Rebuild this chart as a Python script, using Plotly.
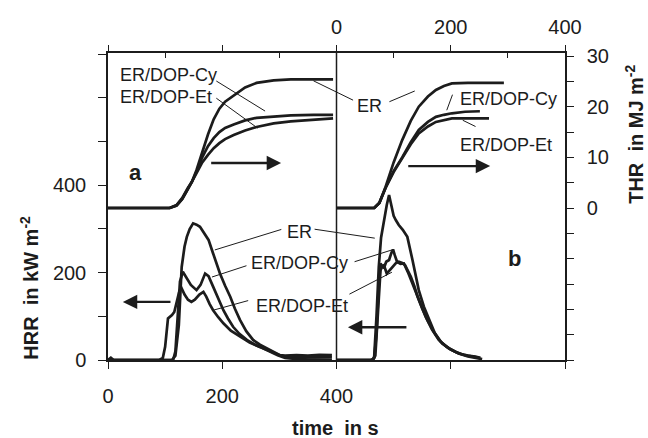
import plotly.graph_objects as go

INK = "#1c1c1c"
FONT = "Arial, Liberation Sans, Helvetica, sans-serif"

# ---------------- panel a : HRR (kW m^-2) vs time (s) ----------------
er_a_t = [0, 5, 10, 50, 100, 112, 118, 124, 129, 134, 138, 143, 149, 155, 161, 168, 176, 184, 190, 196,
          205, 214, 222, 231, 242, 254, 266, 278, 290, 301, 310, 330, 350, 370, 392]
er_a_hrr = [0, 5, 0, 0, 0, 0, 10, 80, 213, 260, 282, 300, 313, 310, 305, 292, 275, 244, 220, 198,
            170, 145, 118, 92, 66, 46, 35, 27, 18, 11, 10, 11, 10, 12, 11]

cy_a_t = [0, 100, 114, 118, 122, 126, 131, 137, 145, 155, 162, 170, 176, 184, 193, 202, 210, 219, 230,
          243, 260, 278, 292, 306, 320, 340, 360, 392]
cy_a_hrr = [0, 0, 0, 20, 100, 180, 202, 190, 172, 160, 172, 198, 192, 168, 140, 114, 95, 76, 60,
            46, 33, 23, 15, 8, 6, 7, 6, 6]

et_a_t = [0, 90, 96, 100, 105, 112, 116, 120, 125, 129, 134, 140, 146, 152, 160, 167, 172, 178, 184,
          193, 202, 215, 231, 248, 266, 282, 297, 310, 330, 360, 392]
et_a_hrr = [0, 0, 5, 30, 95, 103, 110, 135, 158, 164, 150, 138, 133, 138, 150, 156, 145, 128, 114,
            98, 84, 67, 53, 40, 30, 20, 11, 5, 2, 1, 0]

# ---------------- panel a : THR (MJ m^-2) ----------------
thr_a_t = [0, 108, 120, 130, 140, 147, 155, 165, 175, 185, 195, 205, 220, 240, 260, 290, 320, 360, 394]
er_a_thr = [0, 0, 0.5, 1.8, 3.8, 5.2, 7.5, 11, 14.5, 17.5, 19.6, 21, 22.2, 23.8, 24.7, 25.2, 25.4, 25.4, 25.4]
cy_a_thr = [0, 0, 0.5, 1.8, 3.8, 5.2, 7.2, 10, 12.2, 13.8, 15, 15.8, 16.5, 17.3, 17.8, 18.1, 18.3, 18.4, 18.4]
et_a_thr = [0, 0, 0.6, 2.0, 4.0, 5.2, 6.9, 9.0, 10.5, 11.8, 12.8, 13.6, 14.4, 15.3, 16.0, 16.7, 17.1, 17.5, 17.7]

# ---------------- panel b : HRR ----------------
er_b_t = [0, 60, 64, 66, 70, 74, 78, 83, 88, 92, 96, 100, 104, 109, 116, 124, 133, 144, 153, 162, 172,
          185, 200, 214, 230, 243, 252]
er_b_hrr = [0, 0, 2, 8, 100, 213, 280, 320, 355, 378, 350, 330, 320, 309, 298, 282, 229, 160, 122, 92, 62,
            38, 24, 15, 10, 8, 5]

cy_b_t = [0, 62, 66, 70, 74, 77, 80, 83, 87, 92, 96, 99, 102, 106, 112, 118, 126, 132, 139, 147, 156,
          167, 179, 193, 208, 222, 237, 250]
cy_b_hrr = [0, 0, 5, 60, 170, 221, 215, 210, 225, 229, 245, 253, 240, 225, 220, 221, 198, 178, 153, 126, 99,
            70, 46, 30, 19, 12, 8, 5]

et_b_t = [0, 64, 68, 72, 77, 80, 83, 88, 93, 98, 104, 109, 115, 120, 125, 130, 136, 142, 150, 159, 170,
          182, 197, 214, 230, 243, 255]
et_b_hrr = [0, 0, 10, 100, 205, 215, 217, 198, 205, 213, 222, 225, 222, 217, 205, 191, 170, 145, 118, 92, 65,
            42, 26, 15, 8, 4, 2]

# ---------------- panel b : THR ----------------
er_b_thr_t = [0, 66, 75, 86, 100, 115, 130, 144, 160, 174, 188, 202, 230, 260, 293]
er_b_thr = [0, 0, 1, 4.2, 9, 13.4, 17.2, 20, 22, 23.3, 24.1, 24.6, 24.7, 24.7, 24.7]
cy_b_thr_t = [0, 66, 75, 86, 100, 115, 130, 144, 160, 174, 188, 202, 225, 251]
cy_b_thr = [0, 0, 1, 4, 7.3, 10, 13, 15.4, 17, 18, 18.4, 18.7, 19.0, 19.1]
et_b_thr_t = [0, 66, 75, 86, 100, 115, 130, 144, 160, 174, 188, 202, 230, 267]
et_b_thr = [0, 0, 1, 4, 7.1, 9.8, 12.6, 14.7, 16.1, 17.0, 17.4, 17.7, 17.7, 17.7]

# ---------------- ticks ----------------
bottom_ticks = [0, 200, 400, 600, 800]
bottom_text = ["0", "200", "400", "", ""]
bottom_inner = [0, 200, 400, 500, 600, 700, 800]
top_ticks = [-400, -200, 0, 200, 400]
top_text = ["", "", "0", "200", "400"]
top_minor = [-300, -100, 100, 300]
hrr_ticks = [0, 100, 200, 300, 400, 500, 600, 700]
hrr_text = ["0", "", "200", "", "400", "", "", ""]
thr_ticks = [-30, -25, -20, -15, -10, -5, 0, 5, 10, 15, 20, 25, 30]
thr_text = ["", "", "", "", "", "", "0", "", "10", "", "20", "", "30"]

fig = go.Figure()
line = dict(color=INK, width=2.7)


def add(x, y, xa, ya):
    fig.add_trace(go.Scatter(x=x, y=y, xaxis=xa, yaxis=ya, mode="lines", line=line,
                             showlegend=False, hoverinfo="skip"))


add(er_a_t, er_a_hrr, "x", "y")
add(cy_a_t, cy_a_hrr, "x", "y")
add(et_a_t, et_a_hrr, "x", "y")
add(thr_a_t, er_a_thr, "x", "y2")
add(thr_a_t, cy_a_thr, "x", "y2")
add(thr_a_t, et_a_thr, "x", "y2")
add(er_b_t, er_b_hrr, "x2", "y")
add(cy_b_t, cy_b_hrr, "x2", "y")
add(et_b_t, et_b_hrr, "x2", "y")
add(er_b_thr_t, er_b_thr, "x2", "y2")
add(cy_b_thr_t, cy_b_thr, "x2", "y2")
add(et_b_thr_t, et_b_thr, "x2", "y2")

tickfont = dict(family=FONT, size=20, color=INK)
common = dict(showgrid=False, zeroline=False, tickcolor=INK, tickwidth=1.3, tickfont=tickfont)
XR = [0, 800]
XR2 = [-400, 400]
YR = [0, 703]
YR2 = [-30, 30.6]

fig.update_layout(
    width=648, height=438,
    margin=dict(l=108, r=83, t=53, b=78),
    paper_bgcolor="white", plot_bgcolor="white",
    font=dict(family=FONT, color=INK),
    xaxis=dict(range=XR, tickmode="array", tickvals=bottom_ticks, ticktext=bottom_text,
               ticks="outside", ticklen=7, showline=True, linecolor=INK, linewidth=1.5,
               anchor="y", side="bottom", ticklabelstandoff=10, **common),
    xaxis3=dict(range=XR, overlaying="x", anchor="y", side="bottom", tickmode="array",
                tickvals=bottom_inner, ticks="inside", ticklen=7, showticklabels=False,
                showline=False, **common),
    xaxis2=dict(range=XR2, overlaying="x", anchor="y", side="top", tickmode="array",
                tickvals=top_ticks, ticktext=top_text, ticks="outside", ticklen=6,
                showline=True, linecolor=INK, linewidth=1.5, ticklabelstandoff=3,
                minor=dict(tickmode="array", tickvals=top_minor, ticks="inside", ticklen=5,
                           tickcolor=INK, tickwidth=1.3),
                **common),
    xaxis4=dict(range=XR2, overlaying="x", anchor="y", side="top", tickmode="array",
                tickvals=top_ticks, ticks="inside", ticklen=8, showticklabels=False,
                showline=False, **common),
    yaxis=dict(range=YR, tickmode="array", tickvals=hrr_ticks, ticktext=hrr_text,
               ticks="outside", ticklen=8, showline=True, linecolor=INK, linewidth=1.5,
               anchor="x", side="left", ticklabelstandoff=8, **common),
    yaxis3=dict(range=YR, overlaying="y", anchor="x", side="left", tickmode="array",
                tickvals=hrr_ticks, ticks="inside", ticklen=5, showticklabels=False,
                showline=False, **common),
    yaxis2=dict(range=YR2, overlaying="y", anchor="x", side="right", tickmode="array",
                tickvals=thr_ticks, ticktext=thr_text, ticks="outside", ticklen=7,
                showline=True, linecolor=INK, linewidth=1.5, ticklabelstandoff=9, **common),
    yaxis4=dict(range=YR2, overlaying="y", anchor="x", side="right", tickmode="array",
                tickvals=thr_ticks, ticks="inside", ticklen=7, showticklabels=False,
                showline=False, **common),
)

# divider between panel a and panel b
fig.add_shape(type="line", xref="x", yref="paper", x0=400, x1=400, y0=0, y1=1,
              line=dict(color=INK, width=1.5))


def text(t, x, y, xanchor="center", size=18):
    fig.add_annotation(text=t, x=x, y=y, xref="x", yref="y", showarrow=False,
                       xanchor=xanchor, yanchor="middle",
                       font=dict(family=FONT, size=size, color=INK))


def leader(x0, y0, x1, y1):
    fig.add_annotation(text="", x=x1, y=y1, ax=x0, ay=y0, xref="x", yref="y",
                       axref="x", ayref="y", showarrow=True, arrowhead=0,
                       arrowwidth=1, arrowcolor=INK, standoff=0, startstandoff=0)


def arrow(x0, y0, x1, y1):
    fig.add_annotation(text="", x=x1, y=y1, ax=x0, ay=y0, xref="x", yref="y",
                       axref="x", ayref="y", showarrow=True, arrowhead=2, arrowsize=1.2,
                       arrowwidth=2.4, arrowcolor=INK, standoff=0, startstandoff=0)


text("ER/DOP-Cy", 17.5, 652, "left")
text("ER/DOP-Et", 17.5, 602, "left")
text("ER", 458.5, 581)
text("ER/DOP-Cy", 612.5, 597, "left")
text("ER/DOP-Et", 612.5, 492, "left")
text("ER", 336, 293)
text("ER/DOP-Cy", 336, 222)
text("ER/DOP-Et", 339.5, 124)
text("<b>a</b>", 49, 430, size=22)
text("<b>b</b>", 712, 233, size=22)

leader(187, 641, 275, 570)
leader(187, 602, 262, 531)
leader(357, 641, 429, 595)
leader(490, 590, 537, 616)
leader(604, 611, 593, 572)
leader(646, 533, 621, 549)
leader(306, 300, 187, 252)
leader(359, 300, 467, 279)
leader(245, 217, 182, 190)
leader(429, 224, 497, 252)
leader(248, 137, 184, 114)
leader(420, 149, 497, 201)

arrow(178, 451, 303, 451)
arrow(523, 444, 669, 444)
arrow(112, 133, 26, 133)
arrow(525, 75, 420, 75)

title_font = dict(family=FONT, size=20, color=INK)
fig.add_annotation(text="<b>HRR  in kW m<sup>-2</sup></b>", xref="paper", yref="paper",
                   x=-0.171, y=0.235, textangle=-90, showarrow=False,
                   xanchor="center", yanchor="middle", font=title_font)
fig.add_annotation(text="<b>THR  in MJ m<sup>-2</sup></b>", xref="paper", yref="paper",
                   x=1.152, y=0.735, textangle=-90, showarrow=False,
                   xanchor="center", yanchor="middle", font=title_font)
fig.add_annotation(text="<b>time  in s</b>", xref="paper", yref="paper",
                   x=0.497, y=-0.221, showarrow=False,
                   xanchor="center", yanchor="middle", font=title_font)

fig.write_html("out.html")
